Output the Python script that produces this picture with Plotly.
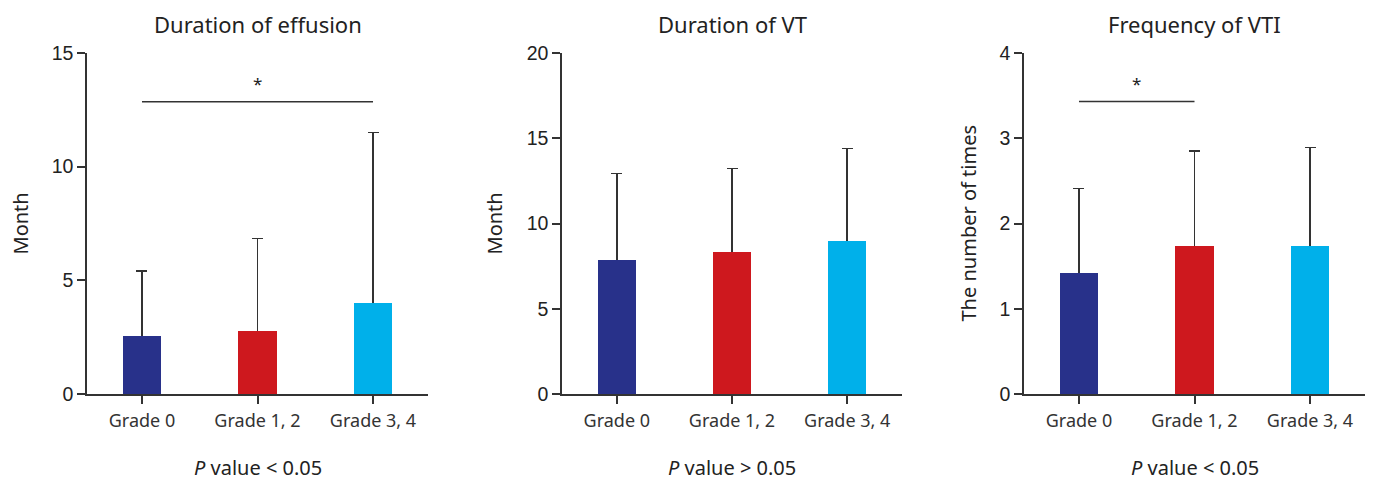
import plotly.graph_objects as go

categories = ["Grade 0", "Grade 1, 2", "Grade 3, 4"]
colors = ["#28318A", "#CE181E", "#00B0EA"]

titles = ["Duration of effusion", "Duration of VT", "Frequency of VTI"]
ytitles = ["Month", "Month", "The number of times"]
pvalue_texts = ["<i>P</i> value &lt; 0.05", "<i>P</i> value &gt; 0.05", "<i>P</i> value &lt; 0.05"]

effusion_mean = [2.55, 2.77, 4.0]
effusion_sd = [2.86, 4.06, 7.5]
vt_mean = [7.86, 8.31, 8.97]
vt_sd = [5.06, 4.93, 5.42]
vti_mean = [1.42, 1.74, 1.74]
vti_sd = [0.99, 1.11, 1.15]

y_max = [15, 20, 4]
y_dtick = [5, 5, 1]

# significance brackets: (panel index, from cat, to cat, y level)
sig_effusion = (0, 0, 2, 12.86)
sig_vti = (2, 0, 1, 3.43)

means = [effusion_mean, vt_mean, vti_mean]
sds = [effusion_sd, vt_sd, vti_sd]

# page body has an 8px default margin; lay out in figure pixels
W, H = 1357, 472
OFF = 8


def px_x(v):
    return (v - OFF) / W


def px_y(v):
    return 1 - (v - OFF) / H


fig = go.Figure()

x_domains = [(px_x(87), px_x(428)), (px_x(562), px_x(902)), (px_x(1024), min(1.0, px_x(1365)))]
y_domain = (px_y(394), px_y(53))
ytitle_x = [20, 494, 968]

axis_color = "#333333"
tick_font = dict(family="Liberation Sans, Arial", size=19.5, color="#222222")
cat_font = dict(family="Noto Sans", size=18, color="#333333")

for i in range(3):
    xa = "x" if i == 0 else f"x{i+1}"
    ya = "y" if i == 0 else f"y{i+1}"
    # bars carrying the error bars (lower half hidden under the top bars)
    fig.add_trace(go.Bar(
        x=[0, 1, 2], y=means[i],
        marker=dict(color=colors, line=dict(width=0)),
        width=0.33,
        error_y=dict(type="data", array=sds[i], symmetric=False, arrayminus=means[i],
                     color=axis_color, thickness=1.5, width=5.5),
        xaxis=xa, yaxis=ya, showlegend=False, hoverinfo="skip",
    ))
    # bars drawn on top
    fig.add_trace(go.Bar(
        x=[0, 1, 2], y=means[i],
        marker=dict(color=colors, line=dict(width=0)),
        width=0.33,
        xaxis=xa, yaxis=ya, showlegend=False,
    ))
    xkey = "xaxis" if i == 0 else f"xaxis{i+1}"
    ykey = "yaxis" if i == 0 else f"yaxis{i+1}"
    fig.update_layout(**{
        xkey: dict(domain=list(x_domains[i]), anchor=ya, range=[-0.476, 2.476],
                   tickmode="array", tickvals=[0, 1, 2], ticktext=categories,
                   showline=True, linecolor=axis_color, linewidth=1.5,
                   ticks="outside", ticklen=8, tickwidth=1.5, tickcolor=axis_color,
                   tickfont=cat_font, showgrid=False, zeroline=False, fixedrange=True,
                   automargin=False, ticklabelstandoff=2),
        ykey: dict(domain=list(y_domain), anchor=xa, range=[0, y_max[i]],
                   tickmode="linear", tick0=0, dtick=y_dtick[i],
                   showline=True, linecolor=axis_color, linewidth=1.5,
                   ticks="outside", ticklen=8, tickwidth=1.5, tickcolor=axis_color,
                   tickfont=tick_font, showgrid=False, zeroline=False, fixedrange=True,
                   automargin=False),
    })
    # title
    fig.add_annotation(text=titles[i], xref=xa, yref="paper", x=1, y=px_y(24),
                       showarrow=False, font=dict(family="Noto Sans", size=22, color="#222222"),
                       xanchor="center", yanchor="middle")
    # y title
    fig.add_annotation(text=ytitles[i], xref="paper", yref="paper", x=px_x(ytitle_x[i]),
                       y=(y_domain[0] + y_domain[1]) / 2, textangle=-90, showarrow=False,
                       font=dict(family="Noto Sans", size=20, color="#222222"),
                       xanchor="center", yanchor="middle")
    # p value
    fig.add_annotation(text=pvalue_texts[i], xref=xa, yref="paper", x=1, y=px_y(467),
                       showarrow=False, font=dict(family="Noto Sans", size=20, color="#222222"),
                       xanchor="center", yanchor="middle")

for panel, a, b, lvl in [sig_effusion, sig_vti]:
    xa = "x" if panel == 0 else f"x{panel+1}"
    ya = "y" if panel == 0 else f"y{panel+1}"
    fig.add_shape(type="line", xref=xa, yref=ya, x0=a, x1=b, y0=lvl, y1=lvl,
                  line=dict(color=axis_color, width=1.5))
    fig.add_annotation(text="*", xref=xa, yref=ya, x=(a + b) / 2, y=lvl,
                       yshift=5, showarrow=False,
                       font=dict(family="Noto Sans", size=17, color="#222222"),
                       xanchor="center", yanchor="bottom")

fig.update_layout(width=W, height=H, margin=dict(l=0, r=0, t=0, b=0),
                  plot_bgcolor="white", paper_bgcolor="white",
                  barmode="overlay", bargap=0)

fig.write_html("out.html")
